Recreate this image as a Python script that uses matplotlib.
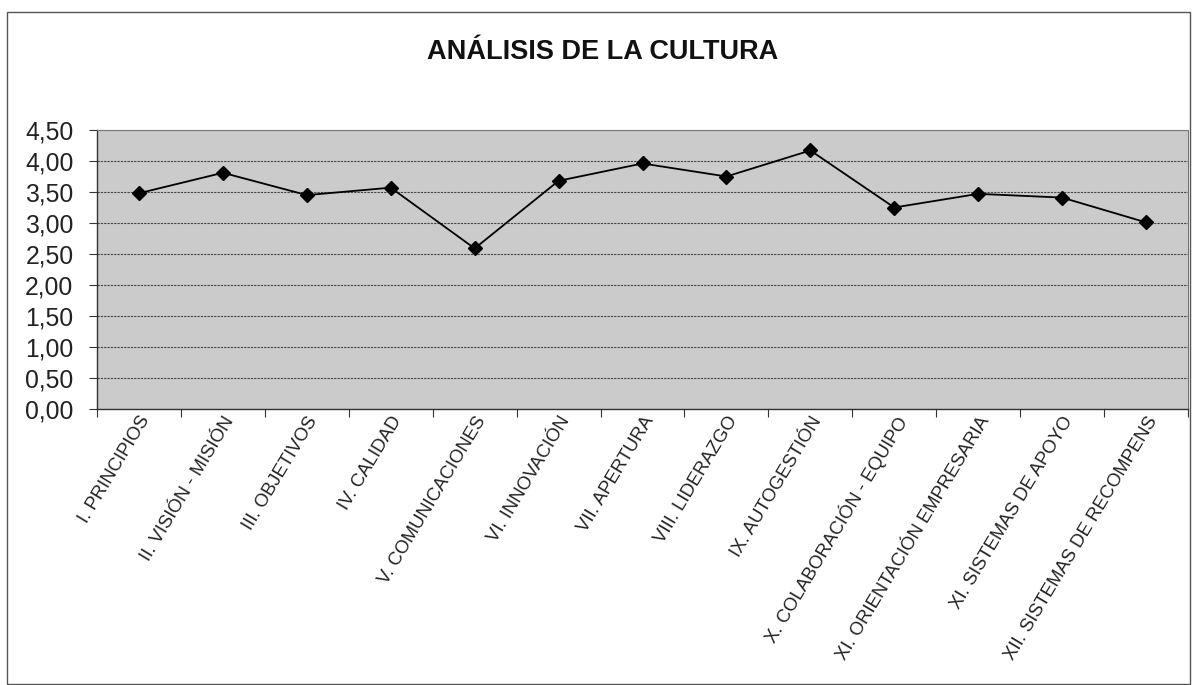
import matplotlib
matplotlib.use("Agg")
import matplotlib.pyplot as plt
from matplotlib.patches import Rectangle

categories = [
    "I. PRINCIPIOS", "II. VISIÓN - MISIÓN", "III. OBJETIVOS", "IV. CALIDAD",
    "V. COMUNICACIONES", "VI. INNOVACIÓN", "VII. APERTURA", "VIII. LIDERAZGO",
    "IX. AUTOGESTIÓN", "X. COLABORACIÓN - EQUIPO", "XI. ORIENTACIÓN EMPRESARIA",
    "XI. SISTEMAS DE APOYO", "XII. SISTEMAS DE RECOMPENS",
]
values = [3.48, 3.81, 3.45, 3.57, 2.59, 3.68, 3.96, 3.75, 4.17, 3.25, 3.47, 3.41, 3.01]
yticks = [0.0, 0.5, 1.0, 1.5, 2.0, 2.5, 3.0, 3.5, 4.0, 4.5]
ytick_labels = ["0,00", "0,50", "1,00", "1,50", "2,00", "2,50", "3,00", "3,50", "4,00", "4,50"]
title = "ANÁLISIS DE LA CULTURA"

plt.rcParams['font.family'] = ['Liberation Sans', 'DejaVu Sans']

W, H = 1193, 685
fig = plt.figure(figsize=(W / 100, H / 100), dpi=100)
fig.patch.set_facecolor('white')

# outer chart frame
fig.add_artist(Rectangle((7 / W, 1 / H), (1190 - 7) / W, (672) / H,
                         transform=fig.transFigure, fill=False,
                         edgecolor='#555555', linewidth=1.0))

ax = fig.add_axes([97 / W, 1 - 409 / H, (1188 - 97) / W, (409 - 130) / H])
ax.set_facecolor('#cbcbcb')

x = list(range(len(categories)))
ax.plot(x, values, color='black', linewidth=1.3, marker='D', markersize=7,
        markerfacecolor='black', markeredgecolor='black', zorder=3)

ax.set_xlim(-0.5, len(categories) - 0.5)
ax.set_ylim(0, 4.5)
ax.set_yticks(yticks)
ax.set_yticklabels(ytick_labels, fontsize=17.8, color='#222222')
ax.yaxis.grid(True, color='#444444', linestyle=(0, (2, 1)), linewidth=0.8)
ax.set_axisbelow(True)

# category ticks between categories
ax.set_xticks([i - 0.5 for i in range(len(categories) + 1)])
ax.set_xticklabels([])
ax.set_xticks(x, minor=True)
ax.set_xticklabels(categories, minor=True, rotation=59, ha='right', va='top',
                   rotation_mode='anchor', fontsize=13.3, color='#222222')
ax.tick_params(axis='x', which='minor', length=0, pad=3)
ax.tick_params(axis='x', which='major', length=6, color='#333333', direction='out')
ax.tick_params(axis='y', length=6, color='#333333', direction='out', pad=11)

for side in ['top', 'right']:
    ax.spines[side].set_color('#777777')
    ax.spines[side].set_linestyle((0, (1, 1)))
    ax.spines[side].set_linewidth(0.8)
for side in ['left', 'bottom']:
    ax.spines[side].set_color('#333333')
    ax.spines[side].set_linewidth(1.0)

fig.text(0.505, 1 - 52 / H, title, ha='center', va='center', fontsize=19.5,
         fontweight='bold', color='#111111')

fig.savefig('out.png', dpi=100, facecolor='white')
